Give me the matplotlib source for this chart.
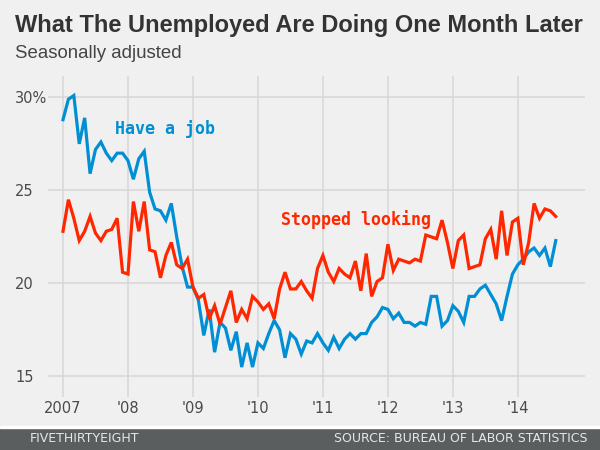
import matplotlib
matplotlib.use("Agg")
import matplotlib.pyplot as plt
from matplotlib.patches import Rectangle

# monthly, Jan 2007 .. Aug 2014 (share of unemployed, %)
have_job = [28.8, 29.9, 30.1, 27.5, 28.9, 25.9, 27.2, 27.6, 27.0, 26.6,
            27.0, 27.0, 26.6, 25.6, 26.7, 27.1, 24.9, 24.0, 23.9, 23.4,
            24.3, 22.5, 20.9, 19.8, 19.8, 19.1, 17.2, 18.6, 16.3, 17.9,
            17.6, 16.4, 17.4, 15.5, 16.8, 15.5, 16.8, 16.5, 17.3, 18.0,
            17.5, 16.0, 17.3, 17.0, 16.2, 16.9, 16.8, 17.3, 16.8, 16.4,
            17.1, 16.5, 17.0, 17.3, 17.0, 17.3, 17.3, 17.9, 18.2, 18.7,
            18.6, 18.1, 18.4, 17.9, 17.9, 17.7, 17.9, 17.8, 19.3, 19.3,
            17.7, 18.0, 18.8, 18.5, 17.9, 19.3, 19.3, 19.7, 19.9, 19.4,
            18.9, 18.0, 19.3, 20.5, 21.0, 21.3, 21.7, 21.9, 21.5, 21.9,
            20.9, 22.3]
stopped_looking = [22.8, 24.5, 23.5, 22.3, 22.8, 23.6, 22.7, 22.3, 22.8, 22.9,
                   23.5, 20.6, 20.5, 24.4, 22.8, 24.4, 21.8, 21.7, 20.3, 21.5,
                   22.2, 21.0, 20.8, 21.3, 19.8, 19.2, 19.4, 18.1, 18.8, 17.8,
                   18.7, 19.6, 17.9, 18.6, 18.1, 19.3, 19.0, 18.6, 18.9, 18.1,
                   19.7, 20.6, 19.7, 19.7, 20.1, 19.6, 19.2, 20.8, 21.5, 20.6,
                   20.1, 20.8, 20.5, 20.3, 21.2, 19.6, 21.6, 19.3, 20.1, 20.3,
                   22.1, 20.7, 21.3, 21.2, 21.1, 21.3, 21.2, 22.6, 22.5, 22.4,
                   23.4, 22.2, 20.8, 22.3, 22.6, 20.8, 20.9, 21.0, 22.4, 22.9,
                   21.3, 23.9, 21.5, 23.3, 23.5, 21.0, 22.2, 24.3, 23.5, 24.0,
                   23.9, 23.6]
year_labels = ["2007", "'08", "'09", "'10", "'11", "'12", "'13", "'14"]
y_ticks = [15, 20, 25, 30]
y_labels = ["15", "20", "25", "30%"]

BG = "#f0f0f0"
BLUE = "#008fd5"
RED = "#ff2700"

fig = plt.figure(figsize=(6, 4.5), dpi=100, facecolor=BG)
ax = fig.add_axes([48 / 600, 1 - 397 / 450, 537 / 600, 321 / 450])
ax.set_facecolor(BG)

months = list(range(len(have_job)))
ax.plot(months, have_job, color=BLUE, lw=2.3, solid_joinstyle="miter")
ax.plot(months, stopped_looking, color=RED, lw=2.3, solid_joinstyle="miter")

ax.set_xlim(-2.77, 96.4)
ax.set_ylim(13.89, 31.15)
ax.set_xticks([12 * k for k in range(len(year_labels))])
ax.set_xticklabels(year_labels)
ax.set_yticks(y_ticks)
ax.set_yticklabels(y_labels)
for lab in ax.get_yticklabels():
    lab.set_horizontalalignment("left")
ax.tick_params(axis="y", length=0, pad=23.8, labelsize=10.5, labelcolor="#4a4a4a")
ax.tick_params(axis="x", length=0, pad=3, labelsize=10.5, labelcolor="#4a4a4a")
ax.grid(True, color="#d6d6d6", lw=1.1)
ax.set_axisbelow(True)
for s in ax.spines.values():
    s.set_visible(False)

ax.text(9.6, 28.3, "Have a job", color=BLUE, fontsize=12, fontweight="bold",
        family="DejaVu Sans Mono", va="center")
ax.text(40.2, 23.45, "Stopped looking", color=RED, fontsize=12, fontweight="bold",
        family="DejaVu Sans Mono", va="center")

fig.text(15 / 600, 1 - 32 / 450, "What The Unemployed Are Doing One Month Later",
         fontsize=17, fontweight="bold", color="#333333",
         family=["Liberation Sans", "DejaVu Sans"], va="baseline")
fig.text(15 / 600, 1 - 58 / 450, "Seasonally adjusted", fontsize=13.4, color="#444444",
         family=["Liberation Sans", "DejaVu Sans"], va="baseline")

# footer band
fig.patches.append(Rectangle((0, 0), 1, 1 - 428 / 450, transform=fig.transFigure,
                             color="#5b5e5f", zorder=0))
fig.patches.append(Rectangle((0, 1 - 428 / 450), 1, 2 / 450, transform=fig.transFigure,
                             color="white", zorder=0))
fig.text(30 / 600, 1 - 439 / 450, "FIVETHIRTYEIGHT", fontsize=9, color="#e6e6e6",
         family=["Liberation Sans Narrow", "DejaVu Sans"], va="center")
fig.text(587 / 600, 1 - 439 / 450, "SOURCE: BUREAU OF LABOR STATISTICS", fontsize=9,
         color="#e6e6e6", family=["Liberation Sans Narrow", "DejaVu Sans"],
         va="center", ha="right")

fig.savefig("out.png", dpi=100, facecolor=BG)
